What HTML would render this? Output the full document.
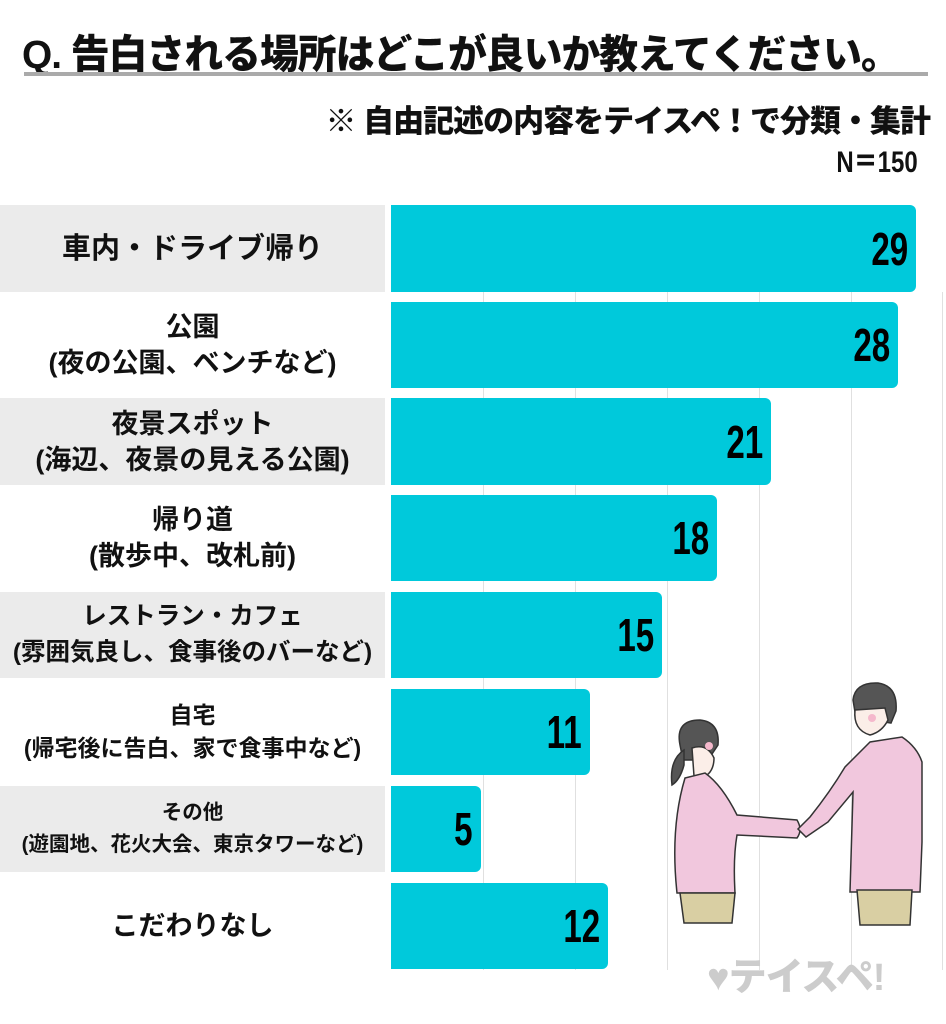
<!DOCTYPE html>
<html><head><meta charset="utf-8"><style>
body{margin:0;width:946px;height:1024px;background:#fff;position:relative;overflow:hidden;font-family:"Liberation Sans","Noto Sans CJK JP",sans-serif;}
.t{position:absolute;font-weight:900;color:#111;white-space:nowrap}
.lab{position:absolute;left:0;width:385px;display:flex;flex-direction:column;align-items:center;justify-content:center;font-weight:bold;color:#111;text-align:center;line-height:36px;white-space:nowrap}
.g{background:#ebebeb}
.bar{position:absolute;left:391px;background:#00c9db;border-radius:0 6px 6px 0}
.num{position:absolute;right:8px;top:50%;transform:translateY(-50%) scaleX(0.72);transform-origin:right center;font-family:"Liberation Sans Narrow","Liberation Sans",sans-serif;font-weight:bold;font-size:46px;color:#000}
.grid{position:absolute;top:292px;height:678px;width:1px;background:#e0e0e0}
</style></head><body>
<div class="t" style="left:22px;top:22px;font-size:40px;letter-spacing:-1px;transform:scaleX(0.97);transform-origin:left">Q. 告白される場所はどこが良いか教えてください。</div>
<div style="position:absolute;left:24px;top:72px;width:904px;height:4px;background:#aaa"></div>
<div class="t" style="right:16px;top:96px;font-size:31px;letter-spacing:-1px">※ 自由記述の内容をテイスペ！で分類・集計</div>
<div class="t" style="right:28px;top:137px;font-size:30px;transform:scaleX(0.8);transform-origin:right">N＝150</div>

<div class="grid" style="left:483px"></div><div class="grid" style="left:575px"></div><div class="grid" style="left:667px"></div><div class="grid" style="left:759px"></div><div class="grid" style="left:851px"></div><div class="grid" style="left:942px"></div>

<div class="lab g" style="top:205px;height:87px;font-size:29px">車内・ドライブ帰り</div>
<div class="lab" style="top:302px;height:86px;font-size:27px">公園<br>(夜の公園、ベンチなど)</div>
<div class="lab g" style="top:398px;height:87px;font-size:27px">夜景スポット<br>(海辺、夜景の見える公園)</div>
<div class="lab" style="top:495px;height:86px;font-size:27px">帰り道<br>(散歩中、改札前)</div>
<div class="lab g" style="top:592px;height:86px;font-size:24.5px">レストラン・カフェ<br>(雰囲気良し、食事後のバーなど)</div>
<div class="lab" style="top:689px;height:86px;font-size:23px;line-height:33px">自宅<br>(帰宅後に告白、家で食事中など)</div>
<div class="lab g" style="top:786px;height:86px;font-size:20.5px;line-height:32px">その他<br>(遊園地、花火大会、東京タワーなど)</div>
<div class="lab" style="top:883px;height:86px;font-size:27px">こだわりなし</div>

<div class="bar" style="top:205px;height:87px;width:525px"><span class="num">29</span></div>
<div class="bar" style="top:302px;height:86px;width:507px"><span class="num">28</span></div>
<div class="bar" style="top:398px;height:87px;width:380px"><span class="num">21</span></div>
<div class="bar" style="top:495px;height:86px;width:326px"><span class="num">18</span></div>
<div class="bar" style="top:592px;height:86px;width:271px"><span class="num">15</span></div>
<div class="bar" style="top:689px;height:86px;width:199px"><span class="num">11</span></div>
<div class="bar" style="top:786px;height:86px;width:90px"><span class="num">5</span></div>
<div class="bar" style="top:883px;height:86px;width:217px"><span class="num">12</span></div>

<svg style="position:absolute;left:0;top:0" width="946" height="1024" stroke="#333" stroke-width="1.5">
<!-- woman -->
<path d="M680 745 q-5 -25 20 -25 q20 2 18 25 l-10 15 l-25 0 z" fill="#555"/>
<path d="M684 750 q-15 10 -12 35 q8 -5 12 -20 z" fill="#555"/>
<path d="M692 748 q15 -5 22 10 q0 15 -12 20 l-8 -2 z" fill="#fbeee8"/>
<path d="M685 778 q-15 50 -8 115 l58 0 q-2 -35 2 -58 l60 3 q6 -8 0 -18 l-60 -5 q-15 -30 -32 -42 z" fill="#f1c7dd"/>
<path d="M680 893 l55 0 l-3 30 l-48 0 z" fill="#d9cfa3"/>
<!-- man -->
<path d="M853 700 q2 -18 25 -17 q20 3 18 28 l-5 12 l-35 -5 z" fill="#555"/>
<path d="M855 710 q-2 20 15 25 q12 -3 18 -15 l-3 -12 z" fill="#fbeee8"/>
<path d="M870 742 l-25 25 q-15 25 -35 50 l-12 12 l8 8 l22 -15 l25 -30 l-3 100 l70 0 l2 -50 l0 -80 q-5 -15 -20 -25 z" fill="#f1c7dd"/>
<path d="M857 890 l55 0 l-2 35 l-50 0 z" fill="#d9cfa3"/>
<circle cx="872" cy="718" r="4" fill="#f5b8cc" stroke="none"/>
<circle cx="709" cy="746" r="4" fill="#f5b8cc" stroke="none"/>
</svg>
<div class="t" style="left:707px;top:946px;font-size:38px;color:#ccc;letter-spacing:-1px">♥テイスペ!</div>
</body></html>
